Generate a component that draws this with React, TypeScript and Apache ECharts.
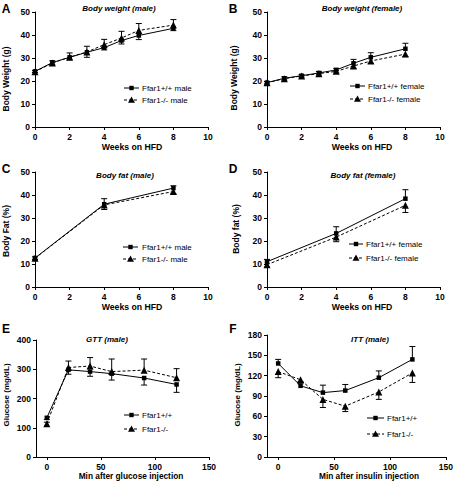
import React, { useEffect, useRef } from "react";
import * as echarts from "echarts";

const FONT = "Liberation Sans, Arial, Helvetica, sans-serif";

// Panel A: body weight (male)
const weeksBW = [0, 1, 2, 3, 4, 5, 6, 8];
const bwMaleWT = [24.2, 28.0, 30.3, 32.5, 34.5, 37.6, 39.8, 42.9];
const bwMaleWTErr = [0.5, 1.0, 1.2, 2.2, 1.0, 1.5, 1.8, 1.0];
const bwMaleKO = [24.0, 27.8, 30.4, 32.6, 35.8, 38.7, 42.0, 44.3];
const bwMaleKOErr = [0.5, 1.0, 1.8, 2.5, 2.3, 2.9, 3.0, 2.4];

// Panel B: body weight (female)
const bwFemaleWT = [19.3, 21.2, 22.3, 23.5, 24.8, 27.7, 30.3, 34.0];
const bwFemaleWTErr = [0.5, 0.6, 0.5, 0.6, 0.7, 1.7, 2.0, 2.4];
const bwFemaleKO = [19.2, 21.0, 22.2, 23.2, 24.2, 26.5, 28.7, 31.7];
const bwFemaleKOErr = [0.5, 0.6, 0.5, 0.6, 0.7, 1.0, 1.0, 1.1];

// Panel C/D: body fat
const weeksFat = [0, 4, 8];
const fatMaleWT = [12.6, 36.0, 43.0];
const fatMaleWTErr = [0.5, 2.4, 1.0];
const fatMaleKO = [12.5, 35.7, 41.5];
const fatMaleKOErr = [0.5, 2.0, 1.0];
const fatFemaleWT = [11.0, 23.3, 38.4];
const fatFemaleWTErr = [1.0, 2.9, 3.9];
const fatFemaleKO = [9.7, 21.7, 35.5];
const fatFemaleKOErr = [1.0, 2.0, 3.1];

// Panel E/F: GTT, ITT
const minutes = [0, 20, 40, 60, 90, 120];
const gttWT = [134, 298, 292, 285, 270, 248];
const gttWTErr = [6, 15, 16, 22, 24, 27];
const gttKO = [114, 306, 311, 292, 297, 271];
const gttKOErr = [5, 22, 29, 43, 38, 31];
const ittWT = [138, 105, 95, 98, 117, 144];
const ittWTErr = [6, 3, 11, 9, 10, 19];
const ittKO = [126, 114, 85, 75, 96, 124];
const ittKOErr = [9, 3, 12, 8, 11, 14];

const letters = ["A", "B", "C", "D", "E", "F"];
const titles = [
  "Body weight (male)",
  "Body weight (female)",
  "Body fat (male)",
  "Body fat (female)",
  "GTT (male)",
  "ITT (male)",
];
const xNames = [
  "Weeks on HFD",
  "Weeks on HFD",
  "Weeks on HFD",
  "Weeks on HFD",
  "Min after glucose injection",
  "Min after insulin injection",
];
const yNames = [
  "Body Weight (g)",
  "Body Weight (g)",
  "Body Fat (%)",
  "Body fat (%)",
  "Glucose (mg/dL)",
  "Glucose (mg/dL)",
];
const legendWT = ["Ffar1+/+ male", "Ffar1+/+ female", "Ffar1+/+ male", "Ffar1+/+ female", "Ffar1+/+", "Ffar1+/+"];
const legendKO = ["Ffar1-/- male", "Ffar1-/- female", "Ffar1-/- male", "Ffar1-/- female", "Ffar1-/-", "Ffar1-/-"];

type Panel = {
  x: number[];
  wt: number[];
  wtErr: number[];
  wtDir: number;
  ko: number[];
  koErr: number[];
  koDir: number;
  grid: { left: number; top: number; width: number; height: number };
  xAxis: { min: number; max: number; interval: number; ticks?: number[] };
  yAxis: { min: number; max: number; interval: number };
  letter: [number, number];
  title: [number, number];
  xName: [number, number, number];
  yName: [number, number, number];
  legend: { l1: number; l2: number; tx: number; y1: number; y2: number };
};

const panels: Panel[] = [
  {
    x: weeksBW, wt: bwMaleWT, wtErr: bwMaleWTErr, wtDir: -1, ko: bwMaleKO, koErr: bwMaleKOErr, koDir: 1,
    grid: { left: 35, top: 12, width: 173, height: 115 },
    xAxis: { min: 0, max: 10, interval: 2 }, yAxis: { min: 0, max: 50, interval: 10 },
    letter: [6, 9], title: [119, 8], xName: [132, 147, 8.7], yName: [6, 79, 8.5],
    legend: { l1: 124, l2: 139, tx: 142, y1: 88, y2: 100 },
  },
  {
    x: weeksBW, wt: bwFemaleWT, wtErr: bwFemaleWTErr, wtDir: 1, ko: bwFemaleKO, koErr: bwFemaleKOErr, koDir: -1,
    grid: { left: 267, top: 12, width: 173, height: 115 },
    xAxis: { min: 0, max: 10, interval: 2 }, yAxis: { min: 0, max: 50, interval: 10 },
    letter: [233, 9], title: [362, 8], xName: [362, 147, 8.7], yName: [234, 78, 8.5],
    legend: { l1: 350, l2: 365, tx: 368, y1: 86, y2: 99 },
  },
  {
    x: weeksFat, wt: fatMaleWT, wtErr: fatMaleWTErr, wtDir: 1, ko: fatMaleKO, koErr: fatMaleKOErr, koDir: -1,
    grid: { left: 35, top: 172, width: 173, height: 115 },
    xAxis: { min: 0, max: 10, interval: 2 }, yAxis: { min: 0, max: 50, interval: 10 },
    letter: [6, 169], title: [125, 175], xName: [132, 307, 8.7], yName: [6, 231, 8.5],
    legend: { l1: 123, l2: 138, tx: 142, y1: 247, y2: 259 },
  },
  {
    x: weeksFat, wt: fatFemaleWT, wtErr: fatFemaleWTErr, wtDir: 1, ko: fatFemaleKO, koErr: fatFemaleKOErr, koDir: -1,
    grid: { left: 267, top: 172, width: 173, height: 115 },
    xAxis: { min: 0, max: 10, interval: 2 }, yAxis: { min: 0, max: 50, interval: 10 },
    letter: [233, 169], title: [363, 175], xName: [362, 307, 8.7], yName: [236, 229, 8.5],
    legend: { l1: 349, l2: 363, tx: 366, y1: 244, y2: 258 },
  },
  {
    x: minutes, wt: gttWT, wtErr: gttWTErr, wtDir: -1, ko: gttKO, koErr: gttKOErr, koDir: 1,
    grid: { left: 36, top: 340, width: 173, height: 117 },
    xAxis: { min: -10, max: 150, interval: 10, ticks: [0, 50, 100, 150] }, yAxis: { min: 0, max: 400, interval: 100 },
    letter: [6, 329], title: [107, 339], xName: [131, 476, 8.3], yName: [6, 395, 8],
    legend: { l1: 124, l2: 139, tx: 142, y1: 415, y2: 429 },
  },
  {
    x: minutes, wt: ittWT, wtErr: ittWTErr, wtDir: 1, ko: ittKO, koErr: ittKOErr, koDir: -1,
    grid: { left: 267, top: 335, width: 180, height: 122 },
    xAxis: { min: -10, max: 150, interval: 10, ticks: [0, 50, 100, 150] }, yAxis: { min: 0, max: 180, interval: 30 },
    letter: [233, 329], title: [370, 339], xName: [369, 476, 8.3], yName: [237, 395, 8],
    legend: { l1: 367, l2: 384, tx: 387, y1: 418, y2: 434 },
  },
];

const axisCommon = {
  axisLine: { show: true, onZero: false, lineStyle: { color: "#000", width: 1 } },
  axisTick: { show: true, inside: false, length: 3, lineStyle: { color: "#000", width: 1 } },
  splitLine: { show: false },
};

function errorSeries(idx: number, xs: number[], ys: number[], errs: number[], dir: number) {
  return {
    type: "custom",
    xAxisIndex: idx,
    yAxisIndex: idx,
    silent: true,
    z: 1,
    encode: { x: 0, y: 1 },
    data: xs.map((x, i) => [x, ys[i], errs[i]]),
    renderItem: (params: any, api: any) => {
      const x = api.value(0);
      const y = api.value(1);
      const e = api.value(2);
      const p0 = api.coord([x, y]);
      const p1 = api.coord([x, y + dir * e]);
      const style = { stroke: "#000", lineWidth: 1, fill: "none" };
      return {
        type: "group",
        children: [
          { type: "line", shape: { x1: p0[0], y1: p0[1], x2: p1[0], y2: p1[1] }, style },
          { type: "line", shape: { x1: p1[0] - 3, y1: p1[1], x2: p1[0] + 3, y2: p1[1] }, style },
        ],
      };
    },
  };
}

function buildOption() {
  const grid: any[] = [];
  const xAxis: any[] = [];
  const yAxis: any[] = [];
  const series: any[] = [];
  const graphic: any[] = [];
  const labelStyle = { color: "#000", fontFamily: FONT, fontWeight: "bold", fontSize: 8.5 };

  panels.forEach((p, i) => {
    grid.push({ ...p.grid, containLabel: false });
    const xa: any = {
      type: "value",
      gridIndex: i,
      min: p.xAxis.min,
      max: p.xAxis.max,
      interval: p.xAxis.interval,
      ...axisCommon,
      axisLabel: { ...labelStyle, margin: 5 },
    };
    if (p.xAxis.ticks) {
      xa.axisTick = { ...axisCommon.axisTick, customValues: p.xAxis.ticks };
      xa.axisLabel = { ...labelStyle, margin: 5, customValues: p.xAxis.ticks };
    }
    xAxis.push(xa);
    yAxis.push({
      type: "value",
      gridIndex: i,
      min: p.yAxis.min,
      max: p.yAxis.max,
      interval: p.yAxis.interval,
      ...axisCommon,
      axisLabel: { ...labelStyle, margin: 5 },
    });

    series.push(errorSeries(i, p.x, p.wt, p.wtErr, p.wtDir));
    series.push(errorSeries(i, p.x, p.ko, p.koErr, p.koDir));
    series.push({
      type: "line",
      name: legendWT[i],
      xAxisIndex: i,
      yAxisIndex: i,
      z: 3,
      data: p.x.map((x, k) => [x, p.wt[k]]),
      symbol: "rect",
      symbolSize: 4.5,
      itemStyle: { color: "#000" },
      lineStyle: { color: "#000", width: 1 },
    });
    series.push({
      type: "line",
      name: legendKO[i],
      xAxisIndex: i,
      yAxisIndex: i,
      z: 3,
      data: p.x.map((x, k) => [x, p.ko[k]]),
      symbol: "triangle",
      symbolSize: 7,
      itemStyle: { color: "#000" },
      lineStyle: { color: "#000", width: 1, type: [3, 2] },
    });

    graphic.push({
      type: "text",
      x: p.letter[0],
      y: p.letter[1],
      style: { text: letters[i], font: `bold 12px ${FONT}`, fill: "#000", align: "center", verticalAlign: "middle" },
    });
    graphic.push({
      type: "text",
      x: p.title[0],
      y: p.title[1],
      style: { text: titles[i], font: `italic bold 8px ${FONT}`, fill: "#000", align: "center", verticalAlign: "middle" },
    });
    graphic.push({
      type: "text",
      x: p.xName[0],
      y: p.xName[1],
      style: { text: xNames[i], font: `bold ${p.xName[2]}px ${FONT}`, fill: "#000", align: "center", verticalAlign: "middle" },
    });
    graphic.push({
      type: "text",
      x: p.yName[0],
      y: p.yName[1],
      rotation: Math.PI / 2,
      style: { text: yNames[i], font: `bold ${p.yName[2]}px ${FONT}`, fill: "#000", align: "center", verticalAlign: "middle" },
    });
    const L = p.legend;
    const mid = (L.l1 + L.l2) / 2;
    graphic.push({
      type: "line",
      shape: { x1: L.l1, y1: L.y1, x2: L.l2, y2: L.y1 },
      style: { stroke: "#000", lineWidth: 1 },
    });
    graphic.push({
      type: "rect",
      shape: { x: mid - 2.2, y: L.y1 - 2.2, width: 4.4, height: 4.4 },
      style: { fill: "#000" },
    });
    graphic.push({
      type: "text",
      x: L.tx,
      y: L.y1,
      style: { text: legendWT[i], font: `8px ${FONT}`, fill: "#000", align: "left", verticalAlign: "middle" },
    });
    graphic.push({
      type: "line",
      shape: { x1: L.l1, y1: L.y2, x2: L.l2, y2: L.y2 },
      style: { stroke: "#000", lineWidth: 1, lineDash: [3, 2] },
    });
    graphic.push({
      type: "polygon",
      shape: { points: [[mid, L.y2 - 3.5], [mid - 3.5, L.y2 + 2.8], [mid + 3.5, L.y2 + 2.8]] },
      style: { fill: "#000" },
    });
    graphic.push({
      type: "text",
      x: L.tx,
      y: L.y2,
      style: { text: legendKO[i], font: `8px ${FONT}`, fill: "#000", align: "left", verticalAlign: "middle" },
    });
  });

  return {
    animation: false,
    backgroundColor: "#fff",
    textStyle: { fontFamily: FONT },
    grid,
    xAxis,
    yAxis,
    series,
    graphic,
  };
}

export default function App() {
  const ref = useRef<HTMLDivElement>(null);
  useEffect(() => {
    if (!ref.current) return;
    const chart = echarts.init(ref.current, null, { renderer: "svg" });
    chart.setOption(buildOption() as any);
    return () => chart.dispose();
  }, []);
  return (
    <div
      ref={ref}
      style={{ position: "absolute", left: 0, top: 0, width: 456, height: 484, background: "#fff" }}
    />
  );
}
